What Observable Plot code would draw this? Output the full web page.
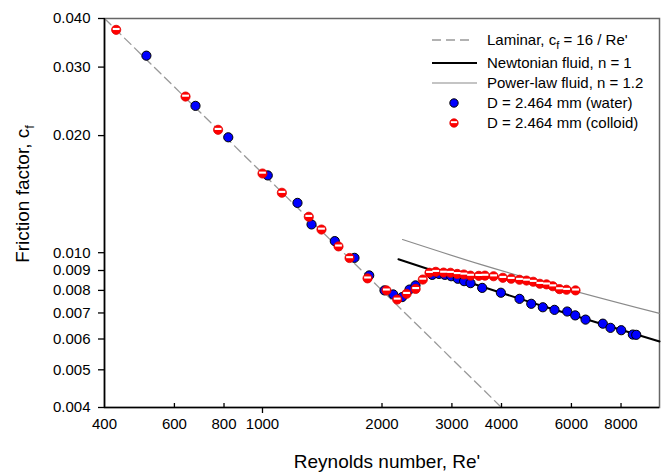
<!DOCTYPE html>
<html><head><meta charset="utf-8">
<script src="https://cdn.jsdelivr.net/npm/d3@7"></script>
<script src="https://cdn.jsdelivr.net/npm/@observablehq/plot@0.6"></script>
<style>
body{margin:0;background:#fff;font-family:Arial,"Liberation Sans",sans-serif;}
#chart{position:relative;width:661px;height:472px;}
</style></head><body><div id="chart"></div>
<script>
// Water (blue) series
const waterRe = [510, 678, 820, 1031, 1225, 1329, 1521, 1705, 1857, 2029, 2135, 2248, 2346, 2429, 2676, 2783, 2880, 2987, 3104, 3220, 3342, 3576, 3985, 4440, 4753, 5083, 5439, 5856, 6134, 6512, 7199, 7525, 8009, 8567, 8738];
const waterCf = [0.0321, 0.02385, 0.0198, 0.0158, 0.01343, 0.01182, 0.01071, 0.0097, 0.00874, 0.0080, 0.00781, 0.00769, 0.00804, 0.00824, 0.00877, 0.00882, 0.00877, 0.0087, 0.00857, 0.00845, 0.00835, 0.00812, 0.00789, 0.00761, 0.00739, 0.00724, 0.00713, 0.00706, 0.0069, 0.00673, 0.00657, 0.00641, 0.00632, 0.00616, 0.00615];
// Colloid (red) series
const colloidRe = [428, 640, 773, 1000, 1119, 1308, 1408, 1554, 1657, 1839, 2052, 2184, 2306, 2431, 2534, 2634, 2732, 2858, 2975, 3094, 3215, 3342, 3506, 3634, 3820, 4031, 4231, 4440, 4625, 4808, 4996, 5193, 5385, 5600, 5832, 6145];
const colloidCf = [0.0374, 0.0252, 0.0207, 0.01598, 0.01426, 0.01237, 0.01147, 0.01038, 0.00969, 0.00859, 0.0080, 0.00758, 0.00784, 0.00807, 0.00853, 0.00888, 0.00893, 0.00889, 0.00888, 0.00882, 0.00879, 0.00873, 0.00872, 0.00873, 0.0087, 0.00862, 0.00857, 0.00852, 0.00848, 0.00842, 0.00832, 0.00829, 0.0082, 0.00806, 0.00803, 0.0080];
// Reference curves
const laminarRe = [400, 4000];
const laminarCf = [0.04, 0.004];
const newtonRe = [2200, 5000, 10000];
const newtonCf = [0.00962, 0.00733, 0.00591];
const powerRe = [2253, 3540, 10000];
const powerCf = [0.01081, 0.00933, 0.00698];
// Ticks
const xTickLabels = [400, 600, 800, 1000, 2000, 3000, 4000, 6000, 8000];
const xMajorTicks = [1000];
const xMinorTicks = [600, 800, 2000, 3000, 4000, 6000, 8000];
const yTickValues = [0.004, 0.005, 0.006, 0.007, 0.008, 0.009, 0.010, 0.020, 0.030, 0.040];
const legendLabels = ["Newtonian fluid, n = 1", "Power-law fluid, n = 1.2", "D = 2.464 mm (water)", "D = 2.464 mm (colloid)"];

const toRows = (xs, ys) => xs.map((x, i) => ({Re: x, cf: ys[i]}));
const water = toRows(waterRe, waterCf);
const colloid = toRows(colloidRe, colloidCf);
const laminar = toRows(laminarRe, laminarCf);
const newton = toRows(newtonRe, newtonCf);
const power = toRows(powerRe, powerCf);

const band = {draw(ctx, size) { const r = Math.sqrt(size / Math.PI); ctx.rect(-0.74 * r, -0.42 * r, 1.48 * r, 0.46 * r); }};
const FONT = "Arial, 'Liberation Sans', sans-serif";

const chart = Plot.plot({
  width: 661, height: 472,
  marginLeft: 104, marginRight: 2, marginTop: 18, marginBottom: 65,
  style: {fontFamily: FONT, fontSize: "15px", color: "#000", background: "white", overflow: "visible"},
  x: {type: "log", domain: [400, 10000]},
  y: {type: "log", domain: [0.004, 0.04]},
  marks: [
    Plot.frame({stroke: "#666", strokeWidth: 1.5}),
    Plot.line(laminar, {x: "Re", y: "cf", stroke: "#999", strokeWidth: 1.3, strokeDasharray: "9,5"}),
    Plot.line(newton, {x: "Re", y: "cf", stroke: "#000", strokeWidth: 2, curve: "monotone-x"}),
    Plot.line(power, {x: "Re", y: "cf", stroke: "#8a8a8a", strokeWidth: 1.2, curve: "monotone-x"}),
    Plot.dot(water, {x: "Re", y: "cf", r: 4.6, fill: "#0000ff", stroke: "#000", strokeWidth: 1}),
    Plot.dot(colloid, {x: "Re", y: "cf", r: 4.6, fill: "#ff0000", stroke: "#e00000", strokeWidth: 0.8}),
    Plot.dot(colloid, {x: "Re", y: "cf", r: 4.6, symbol: band, fill: "white", stroke: "none"}),
    Plot.text(xTickLabels, {x: d => d, frameAnchor: "bottom", dy: 21, text: d => String(d), fontSize: 15, fill: "#000", textAnchor: "middle"}),
    Plot.axisX({ticks: xMajorTicks, tickSize: 6, tickFormat: () => "", label: null, strokeWidth: 1.3}),
    Plot.axisX({ticks: xMinorTicks, tickSize: -4, tickFormat: () => "", label: null, strokeWidth: 1.3}),
    Plot.axisY({ticks: yTickValues, tickSize: 6, tickPadding: 8, tickFormat: d => d.toFixed(3), label: null, fontSize: 15, strokeWidth: 1.3}),
    Plot.ruleY([0.004], {stroke: "#000", strokeWidth: 1.6}),
    Plot.ruleX([400], {stroke: "#000", strokeWidth: 1.6})
  ]
});
document.getElementById("chart").appendChild(chart);

const svg = d3.select(chart);
// Axis titles
svg.append("text").attr("x", 387).attr("y", 468).attr("text-anchor", "middle")
  .style("font-family", FONT).style("font-size", "19px").attr("fill", "#000").text("Reynolds number, Re'");
const yt = svg.append("text").attr("transform", "translate(29,194) rotate(-90)").attr("text-anchor", "middle")
  .style("font-family", FONT).style("font-size", "19px").attr("fill", "#000");
yt.append("tspan").text("Friction factor, c");
yt.append("tspan").attr("dy", 5).style("font-size", "13px").text("f");

// Legend
const lg = svg.append("g").style("font-family", FONT).style("font-size", "15px").attr("text-anchor", "start").attr("fill", "#000");
const rowsY = [40, 63, 83, 103, 123];
lg.append("line").attr("x1", 432).attr("x2", 474).attr("y1", rowsY[0]).attr("y2", rowsY[0])
  .attr("stroke", "#999").attr("stroke-width", 1.3).attr("stroke-dasharray", "9,5");
lg.append("line").attr("x1", 432).attr("x2", 477).attr("y1", rowsY[1]).attr("y2", rowsY[1])
  .attr("stroke", "#000").attr("stroke-width", 2);
lg.append("line").attr("x1", 432).attr("x2", 477).attr("y1", rowsY[2]).attr("y2", rowsY[2])
  .attr("stroke", "#8a8a8a").attr("stroke-width", 1.2);
lg.append("circle").attr("cx", 454).attr("cy", rowsY[3]).attr("r", 4.2).attr("fill", "#0000ff").attr("stroke", "#000");
lg.append("circle").attr("cx", 454).attr("cy", rowsY[4]).attr("r", 4.2).attr("fill", "#ff0000").attr("stroke", "#e00000").attr("stroke-width", 0.8);
lg.append("rect").attr("x", 454 - 3.1).attr("y", rowsY[4] - 1.8).attr("width", 6.2).attr("height", 1.9).attr("fill", "white");
const t0 = lg.append("text").attr("x", 487).attr("y", rowsY[0] + 5);
t0.append("tspan").text("Laminar, c");
t0.append("tspan").attr("dy", 4).style("font-size", "11px").text("f");
t0.append("tspan").attr("dy", -4).text(" = 16 / Re'");
legendLabels.forEach((s, i) => {
  lg.append("text").attr("x", 487).attr("y", rowsY[i + 1] + 5).text(s);
});
</script>
</body></html>
